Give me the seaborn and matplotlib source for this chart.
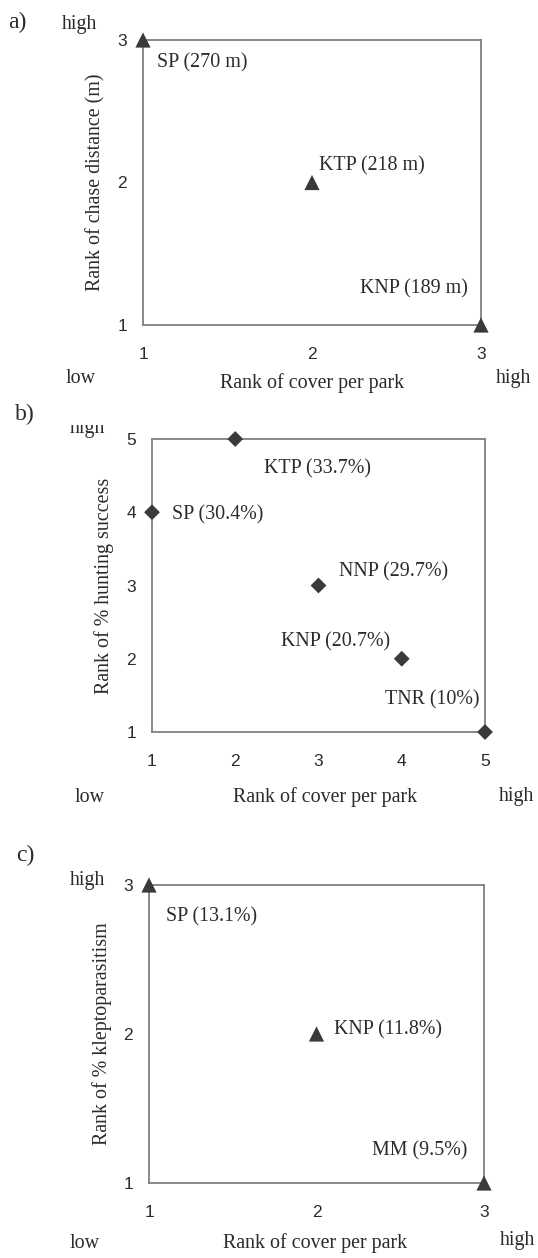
import numpy as np
import pandas as pd
import matplotlib
matplotlib.use("Agg")
import matplotlib.pyplot as plt
import seaborn as sns
from matplotlib.transforms import Bbox, TransformedBbox

# ---------------- data ----------------
a_parks = ["SP (270 m)", "KTP (218 m)", "KNP (189 m)"]
a_cover = [1, 2, 3]
a_chase = [3, 2, 1]

b_parks = ["KTP (33.7%)", "SP (30.4%)", "NNP (29.7%)", "KNP (20.7%)", "TNR (10%)"]
b_cover = [2, 1, 3, 4, 5]
b_hunt = [5, 4, 3, 2, 1]

c_parks = ["SP (13.1%)", "KNP (11.8%)", "MM (9.5%)"]
c_cover = [1, 2, 3]
c_klepto = [3, 2, 1]

x_label = "Rank of cover per park"
a_ylabel = "Rank of chase distance (m)"
b_ylabel = "Rank of % hunting success"
c_ylabel = "Rank of % kleptoparasitism"
a_ticks = [1, 2, 3]
b_ticks = [1, 2, 3, 4, 5]
c_ticks = [1, 2, 3]

# ---------------- style ----------------
sns.set_style("white")
plt.rcParams["font.family"] = ["Liberation Serif", "DejaVu Serif"]

W, H = 538, 1258
fig = plt.figure(figsize=(W / 100, H / 100), dpi=100)

TXT = "#2b2b2b"
MARK = "#3a3a3a"
SPINE = "#808080"
SERIF = 14.4
SANS = ["Liberation Sans", "DejaVu Sans"]


def fx(x):
    return x / W


def fy(y):
    return 1 - y / H


panels = [
    dict(rect=(143, 40, 481, 325), x=a_cover, y=a_chase, names=a_parks, ticks=a_ticks,
         ylabel=a_ylabel, marker="^", s=120,
         offsets=[(14, -23, "left"), (7, 16.5, "left"), (-13, 36, "right")],
         xlab=(0.5, -0.2035), ylab=-0.139,
         texts=[("a)", 8, 22, 17), ("high", 62, 25, SERIF), ("low", 66, 378, SERIF),
                ("high", 496, 378, SERIF)], clip=None),
    dict(rect=(152, 439, 485, 732), x=b_cover, y=b_hunt, names=b_parks, ticks=b_ticks,
         ylabel=b_ylabel, marker="D", s=65,
         offsets=[(29, -30, "left"), (20, -3, "left"), (20, 13.5, "left"),
                  (-12, 17, "right"), (-6, 32, "right")],
         xlab=(0.52, -0.222), ylab=-0.144,
         texts=[("b)", 15, 414, 17), ("high", 70, 428, SERIF), ("low", 75, 797, SERIF),
                ("high", 499, 797, SERIF)], clip=425),
    dict(rect=(149, 885, 484, 1183), x=c_cover, y=c_klepto, names=c_parks, ticks=c_ticks,
         ylabel=c_ylabel, marker="^", s=120,
         offsets=[(17, -32, "left"), (17.5, 4, "left"), (-17, 32, "right")],
         xlab=(0.496, -0.201), ylab=-0.140,
         texts=[("c)", 16, 855, 17), ("high", 70, 880, SERIF), ("low", 70, 1243, SERIF),
                ("high", 500, 1240, SERIF)], clip=None),
]

for p in panels:
    l, t, r, b = p["rect"]
    ax = fig.add_axes([fx(l), fy(b), (r - l) / W, (b - t) / H])
    df = pd.DataFrame({"cover": p["x"], "rank": p["y"], "park": p["names"]})
    sns.scatterplot(data=df, x="cover", y="rank", marker=p["marker"], s=p["s"],
                    color=MARK, edgecolor="none", ax=ax, clip_on=False, zorder=5)
    ax.set_xlim(min(p["ticks"]), max(p["ticks"]))
    ax.set_ylim(min(p["ticks"]), max(p["ticks"]))
    ax.set_xticks(p["ticks"])
    ax.set_yticks(p["ticks"])
    for sp in ax.spines.values():
        sp.set_visible(True)
        sp.set_color(SPINE)
        sp.set_linewidth(1.3)
    ax.tick_params(axis="both", direction="out", length=3.6, width=1.0, color="#555555",
                   labelcolor=TXT, labelsize=12.5)
    ax.tick_params(axis="x", pad=12)
    ax.tick_params(axis="y", pad=8)
    for lab in ax.get_xticklabels() + ax.get_yticklabels():
        lab.set_family(SANS)
    ax.set_xlabel(x_label, fontsize=SERIF, color=TXT, va="center")
    ax.set_ylabel(p["ylabel"], fontsize=SERIF, color=TXT, va="center")
    ax.xaxis.set_label_coords(*p["xlab"])
    ax.yaxis.set_label_coords(p["ylab"], 0.5)
    for (xv, yv, name), (dx, dy, ha) in zip(zip(df["cover"], df["rank"], df["park"]), p["offsets"]):
        ax.annotate(name, xy=(xv, yv), xytext=(dx, dy), textcoords="offset pixels",
                    ha=ha, va="center", fontsize=SERIF, color=TXT)
    for s, x, y, fs in p["texts"]:
        tx = fig.text(fx(x), fy(y), s, ha="left", va="center", fontsize=fs, color=TXT)
        if p["clip"] is not None and s == "high" and x < 200:
            tx.set_clip_on(True)
            tx.set_clip_box(TransformedBbox(Bbox.from_extents(0, 0, 1, fy(p["clip"])),
                                            fig.transFigure))

fig.savefig("out.png", dpi=100, facecolor="white")
